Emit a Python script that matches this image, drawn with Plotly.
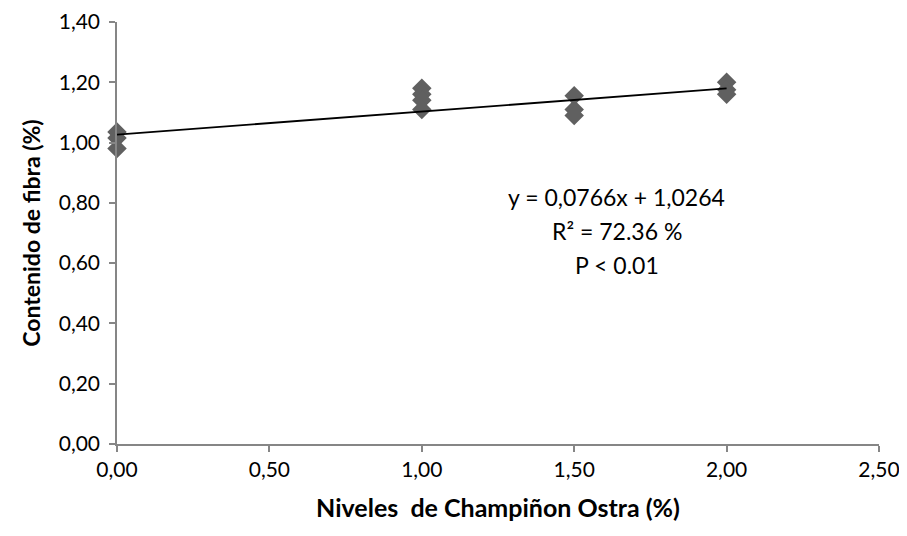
import plotly.graph_objects as go

# Data
x_levels = [0, 0, 0, 1, 1, 1, 1, 1.5, 1.5, 1.5, 2, 2, 2]
fibra = [1.035, 1.015, 0.98, 1.18, 1.16, 1.14, 1.11, 1.155, 1.11, 1.09, 1.20, 1.175, 1.16]

SLOPE = 0.0766
INTERCEPT = 1.0264
trend_x = [0, 2]
trend_y = [INTERCEPT + SLOPE * v for v in trend_x]

x_ticks = [0, 0.5, 1.0, 1.5, 2.0, 2.5]
y_ticks = [0, 0.2, 0.4, 0.6, 0.8, 1.0, 1.2, 1.4]

eq_lines = ["y = 0,0766x + 1,0264", "R² = 72.36 %", "P < 0.01"]

FONT = "Lato"
AXIS_COLOR = "#868686"

fig = go.Figure()
fig.add_trace(go.Scatter(
    x=x_levels, y=fibra, mode="markers",
    marker=dict(symbol="diamond", size=15, color="#606060", line=dict(width=0)),
    showlegend=False, cliponaxis=False,
))
fig.add_trace(go.Scatter(
    x=trend_x, y=trend_y, mode="lines",
    line=dict(color="black", width=1.8), showlegend=False,
))

for i, line in enumerate(eq_lines):
    fig.add_annotation(
        x=1.64, y=0.82, xref="x", yref="y", yshift=-34 * i,
        text=line, showarrow=False,
        font=dict(family=FONT, size=23, color="black"),
        align="center",
    )

fig.update_xaxes(
    range=[0, 2.5], tickvals=x_ticks, tickformat=".2f", automargin=False,
    showgrid=False, zeroline=False, showline=True, linecolor=AXIS_COLOR, linewidth=1.5,
    ticks="outside", ticklen=6, tickcolor=AXIS_COLOR, tickwidth=1.5,
    tickfont=dict(family=FONT, size=21, color="black"),
    title=dict(text="<b>Niveles  de Champiñon Ostra (%)</b>", standoff=20,
               font=dict(family=FONT, size=25, color="black")),
)
fig.update_yaxes(
    range=[0, 1.4], tickvals=y_ticks, tickformat=".2f", automargin=False,
    showgrid=False, zeroline=False, showline=True, linecolor=AXIS_COLOR, linewidth=1.5,
    ticks="outside", ticklen=6, tickcolor=AXIS_COLOR, tickwidth=1.5,
    ticklabelstandoff=5,
    tickfont=dict(family=FONT, size=21, color="black"),
    title=dict(text="<b>Contenido de fibra (%)</b>", standoff=12,
               font=dict(family=FONT, size=23, color="black")),
)

# The page has an 8px body margin, so the figure is shrunk and margins shifted
fig.update_layout(
    width=899, height=528,
    margin=dict(l=109, r=28, t=14, b=92),
    paper_bgcolor="white", plot_bgcolor="white",
    separators=",.",
    font=dict(family=FONT),
)

fig.write_html("out.html")
